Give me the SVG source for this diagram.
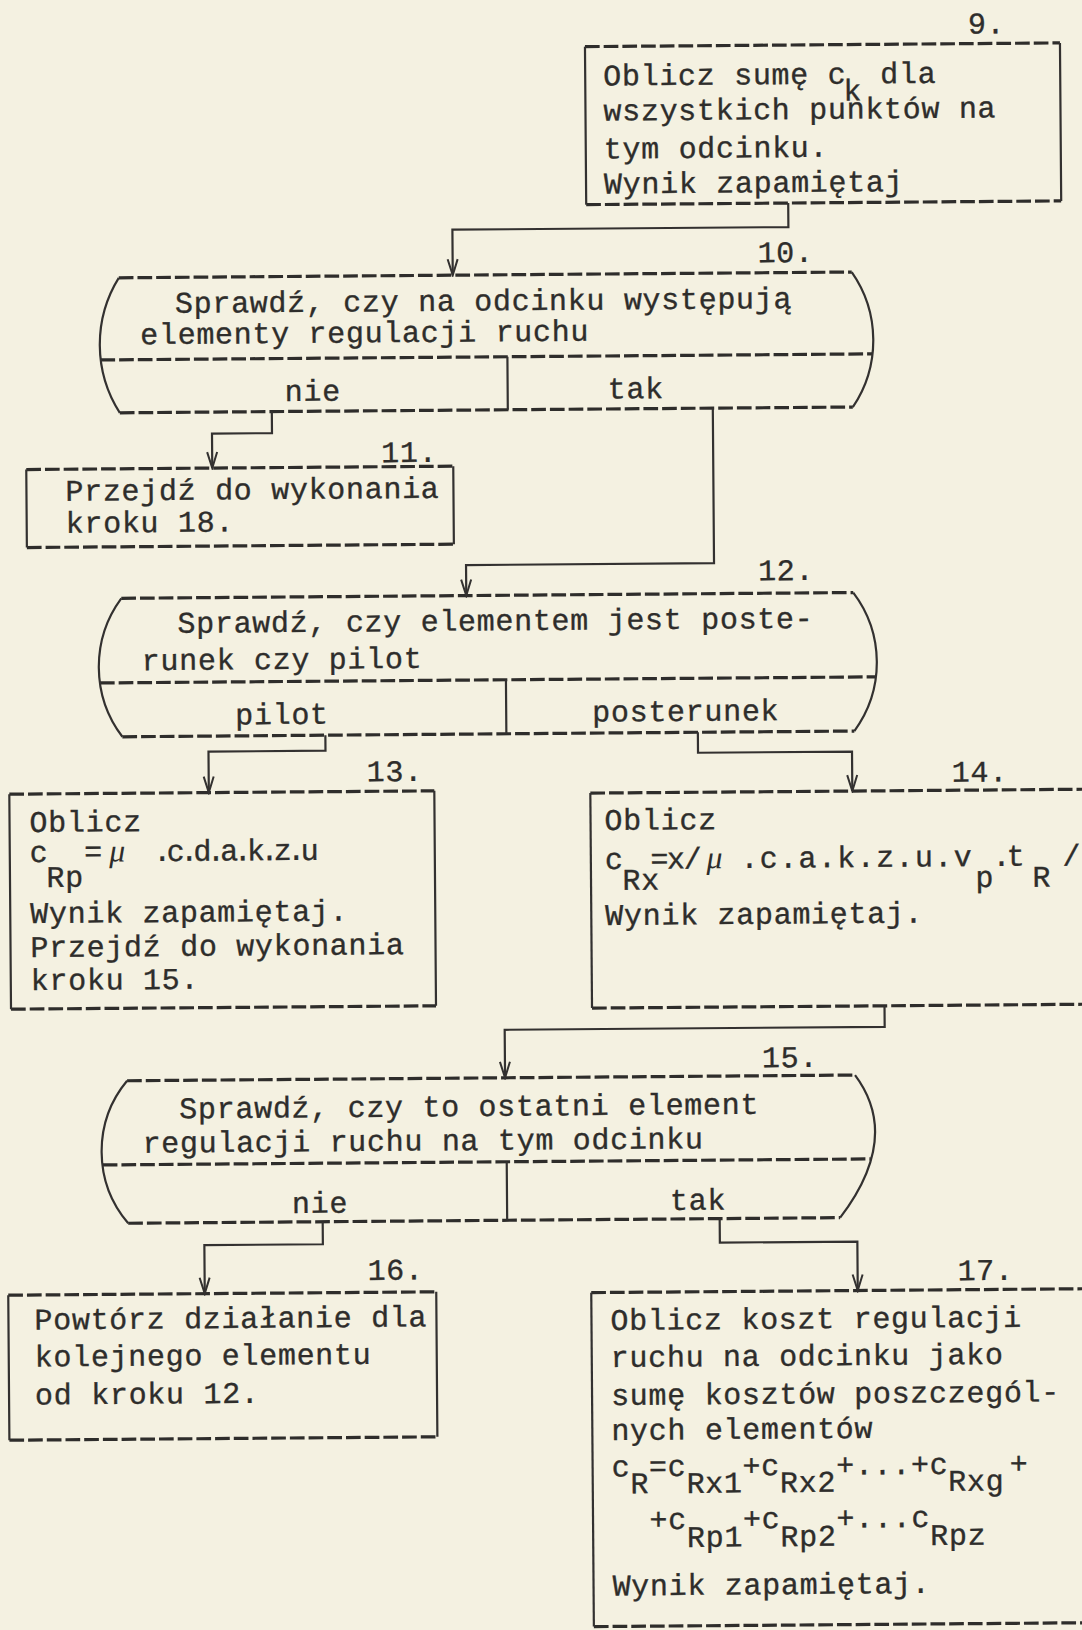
<svg xmlns="http://www.w3.org/2000/svg" width="1082" height="1630" viewBox="0 0 1082 1630">
<style>
.t{font-family:"Liberation Mono","DejaVu Sans Mono",monospace;font-size:30px;letter-spacing:0.7px;fill:#2e2d2b;stroke:#2e2d2b;stroke-width:0.35px}
.mu{font-family:"Liberation Serif",serif;font-style:italic;font-size:32px;fill:#2e2d2b}
.dash{fill:none;stroke:#2e2d2b;stroke-width:3.2;stroke-dasharray:14.7 4}
.ln{fill:none;stroke:#333130;stroke-width:2.2}
.cn{fill:none;stroke:#333130;stroke-width:2.2;marker-end:url(#arr)}
</style>
<defs>
<marker id="arr" viewBox="-17 -7 19 14" refX="0" refY="0" markerWidth="19" markerHeight="14" markerUnits="userSpaceOnUse" orient="auto">
<path d="M-16,-5 L0,0 L-16,5" fill="none" stroke="#333130" stroke-width="2"/>
</marker>
</defs>
<rect x="0" y="0" width="1082" height="1630" fill="#f4f1e1"/>
<g transform="rotate(-0.45 541 815)">
<g id="n9">
<path class="dash" d="M591,47 H1066 M591,205 H1066"/>
<path class="ln" d="M591,47 V205 M1066,47 V205"/>
<text class="t" x="974" y="37">9.</text>
<text class="t" x="609" y="86">Oblicz sumę c<tspan x="886">dla</tspan></text>
<text class="t" x="849" y="103">k</text>
<text class="t" x="609" y="121">wszystkich punktów na</text>
<text class="t" x="609" y="159">tym odcinku.</text>
<text class="t" x="609" y="194">Wynik zapamiętaj</text>
</g>
<g id="n10">
<path class="dash" d="M123,274.5 H856 M104,356.5 H876 M123,409.5 H856"/>
<path class="ln" d="M123,274.5 A126.6,126.6 0 0 0 123,409.5 M856,274.5 A119,119 0 0 1 856,409.5 M511,356.5 V409.5"/>
<text class="t" x="762" y="264">10.</text>
<text class="t" x="179" y="310">Sprawdź, czy na odcinku występują</text>
<text class="t" x="144" y="341">elementy regulacji ruchu</text>
<text class="t" x="288" y="399">nie</text>
<text class="t" x="611" y="399">tak</text>
</g>
<g id="n11">
<path class="dash" d="M29,465.5 H456 M29,543.5 H456"/>
<path class="ln" d="M29,465.5 V543.5 M456,465.5 V543.5"/>
<text class="t" x="384" y="461">11.</text>
<text class="t" x="68" y="497">Przejdź do wykonania</text>
<text class="t" x="68" y="529">kroku 18.</text>
</g>
<g id="n12">
<path class="dash" d="M123,595 H855 M101,679.5 H877 M123,733.5 H855"/>
<path class="ln" d="M123,595 A115.7,115.7 0 0 0 123,733.5 M855,595 A115.7,115.7 0 0 1 855,733.5 M507,679.5 V733.5"/>
<text class="t" x="760" y="582">12.</text>
<text class="t" x="179" y="630">Sprawdź, czy elementem jest poste-</text>
<text class="t" x="143" y="667">runek czy pilot</text>
<text class="t" x="236" y="722">pilot</text>
<text class="t" x="593" y="722">posterunek</text>
</g>
<g id="n13">
<path class="dash" d="M9.5,790 H434.5 M9.5,1005 H434.5"/>
<path class="ln" d="M9.5,790 V1005 M434.5,790 V1005"/>
<text class="t" x="367" y="780">13.</text>
<text class="t" x="29.5" y="828">Oblicz</text>
<text class="t" x="29.5" y="858">c</text>
<text class="t" x="46" y="883">Rp</text>
<text class="t" x="84" y="858">=</text>
<text class="mu" x="109" y="858">μ</text>
<text class="t" x="153" y="858" textLength="166" lengthAdjust="spacing">.c.d.a.k.z.u</text>
<text class="t" x="29.5" y="919">Wynik zapamiętaj.</text>
<text class="t" x="29.5" y="953">Przejdź do wykonania</text>
<text class="t" x="29.5" y="986">kroku 15.</text>
</g>
<g id="n14">
<path class="dash" d="M590.5,793.5 H1095 M590.5,1008.5 H1095"/>
<path class="ln" d="M590.5,793.5 V1008.5"/>
<text class="t" x="952" y="785">14.</text>
<text class="t" x="604.5" y="830.5">Oblicz</text>
<text class="t" x="604.5" y="869.5">c</text>
<text class="t" x="622" y="890.5">Rx</text>
<text class="t" x="650" y="869.5" textLength="52" lengthAdjust="spacing">=x/</text>
<text class="mu" x="706" y="869.5">μ</text>
<text class="t" x="740" y="869.5" textLength="232" lengthAdjust="spacing">.c.a.k.z.u.v</text>
<text class="t" x="975" y="890.5">p</text>
<text class="t" x="992" y="869.5" textLength="33" lengthAdjust="spacing">.t</text>
<text class="t" x="1032" y="890.5">R</text>
<text class="t" x="1062" y="869.5">/</text>
<text class="t" x="604.5" y="925.5">Wynik zapamiętaj.</text>
</g>
<g id="n15">
<path class="dash" d="M125,1077.5 H853 M100,1161.5 H868 M125,1220 H837"/>
<path class="ln" d="M125,1077.5 A110.6,110.6 0 0 0 125,1220 M853,1077.5 Q899,1140 837,1220 M504,1161.5 V1220"/>
<text class="t" x="760" y="1069">15.</text>
<text class="t" x="177" y="1115.5">Sprawdź, czy to ostatni element</text>
<text class="t" x="140" y="1149.5">regulacji ruchu na tym odcinku</text>
<text class="t" x="289" y="1211">nie</text>
<text class="t" x="667" y="1211">tak</text>
</g>
<g id="n16">
<path class="dash" d="M4.5,1291 H432.5 M4.5,1436 H432.5"/>
<path class="ln" d="M4.5,1291 V1436 M432.5,1291 V1436"/>
<text class="t" x="364" y="1278.5">16.</text>
<text class="t" x="30.5" y="1325.5">Powtórz działanie dla</text>
<text class="t" x="30.5" y="1362.5">kolejnego elementu</text>
<text class="t" x="30.5" y="1400.5">od kroku 12.</text>
</g>
<g id="n17">
<path class="dash" d="M587.5,1293 H1095 M587.5,1627 H1095"/>
<path class="ln" d="M587.5,1293 V1627"/>
<text class="t" x="954" y="1283.5">17.</text>
<text class="t" x="606.5" y="1330.5">Oblicz koszt regulacji</text>
<text class="t" x="606.5" y="1367.5">ruchu na odcinku jako</text>
<text class="t" x="606.5" y="1405.5">sumę kosztów poszczegól-</text>
<text class="t" x="606.5" y="1440.5">nych elementów</text>
<text class="t" x="606.5" y="1477"><tspan x="606.5">c</tspan><tspan x="643.9">=c</tspan><tspan x="737.4">+c</tspan><tspan x="831">+...+c</tspan><tspan x="1004.5">+</tspan></text>
<text class="t" x="625.2" y="1494"><tspan x="625.2">R</tspan><tspan x="681.3">Rx1</tspan><tspan x="774.8">Rx2</tspan><tspan x="943">Rxg</tspan></text>
<text class="t" x="644" y="1530"><tspan x="644">+c</tspan><tspan x="737.4">+c</tspan><tspan x="831">+...c</tspan></text>
<text class="t" x="681.3" y="1548"><tspan x="681.3">Rp1</tspan><tspan x="774.8">Rp2</tspan><tspan x="924.5">Rpz</tspan></text>
<text class="t" x="606.5" y="1596">Wynik zapamiętaj.</text>
</g>
<g id="connectors">
<path class="cn" d="M793,205 V229 H457 V274.5"/>
<path class="cn" d="M275,409.5 V431 H215 V465.5"/>
<path class="cn" d="M716,409.5 V564.5 H468 V595"/>
<path class="cn" d="M326,733.5 V749 H209 V790"/>
<path class="cn" d="M698.5,733.5 V754 H852.5 V793.5"/>
<path class="cn" d="M883,1008.5 V1029.5 H503 V1077.5"/>
<path class="cn" d="M319.5,1220 V1242.5 H201 V1291"/>
<path class="cn" d="M716.5,1220 V1244 H854 V1293"/>
</g>
</g>
</svg>
